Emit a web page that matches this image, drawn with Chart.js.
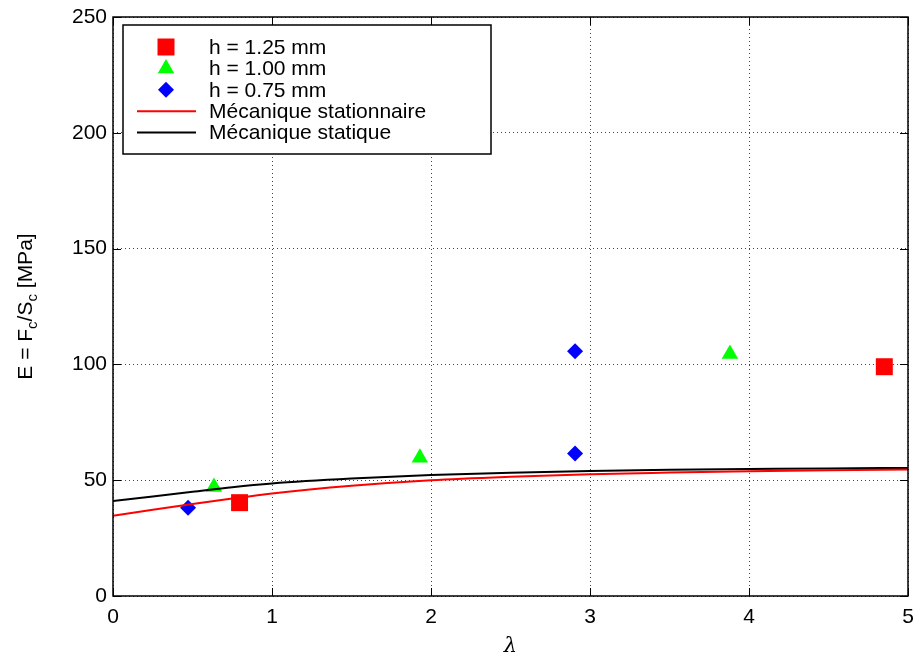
<!DOCTYPE html>
<html>
<head>
<meta charset="utf-8">
<script src="https://cdn.jsdelivr.net/npm/chart.js@4.4.1/dist/chart.umd.min.js"></script>
<style>
  html, body { margin: 0; padding: 0; background: #fff; }
  #wrap { width: 920px; height: 665px; }
</style>
</head>
<body>
<div id="wrap"><canvas id="myChart"></canvas></div>
<script>
// mesures (points)
const lambda125 = [0.796, 4.851];
const e125 = [40.3, 99.0];
const lambda100 = [0.635, 1.93, 3.88];
const e100 = [47.1, 59.7, 104.5];
const lambda075 = [0.472, 2.906, 2.906];
const e075 = [38.1, 105.7, 61.5];

// modeles (courbes)
const lambdaCurve = [0, 0.25, 0.5, 0.75, 1, 1.5, 2, 2.5, 3, 3.5, 4, 4.5, 5];
const eStationnaire = [34.6, 37.2, 39.7, 42.1, 44.3, 47.6, 50.0, 51.5, 52.6, 53.3, 53.9, 54.3, 54.6];
const eStatique = [41.0, 43.0, 45.0, 47.0, 48.6, 50.7, 52.2, 53.2, 54.0, 54.5, 54.8, 55.1, 55.3];

// graduations
const xTicks = [0, 1, 2, 3, 4, 5];
const yTicks = [0, 50, 100, 150, 200, 250];

const FONT = "'Liberation Sans', Arial, sans-serif";

const pts = (xs, ys) => xs.map((x, i) => ({ x: x, y: ys[i] }));

function marker(ctx, style, x, y, color) {
    ctx.save();
    ctx.fillStyle = color;
    ctx.beginPath();
    if (style === 'rect') {
        ctx.rect(x - 8.5, y - 8.5, 17, 17);
    } else if (style === 'triangle') {
        ctx.moveTo(x, y - 9.5);
        ctx.lineTo(x + 8.2, y + 4.75);
        ctx.lineTo(x - 8.2, y + 4.75);
        ctx.closePath();
    } else {
        ctx.moveTo(x - 8, y);
        ctx.lineTo(x, y - 8);
        ctx.lineTo(x + 8, y);
        ctx.lineTo(x, y + 8);
        ctx.closePath();
    }
    ctx.fill();
    ctx.restore();
}

const cadre = {
    id: 'cadre',
    afterDraw(chart) {
        const ctx = chart.ctx;
        const a = chart.chartArea;
        const sx = chart.scales.x, sy = chart.scales.y;

        // ticks vers l'interieur
        ctx.save();
        ctx.strokeStyle = '#000';
        ctx.lineWidth = 1;
        xTicks.forEach(v => {
            const px = Math.round(sx.getPixelForValue(v)) + 0.5;
            ctx.beginPath();
            ctx.moveTo(px, a.bottom); ctx.lineTo(px, a.bottom - 8);
            ctx.moveTo(px, a.top); ctx.lineTo(px, a.top + 8);
            ctx.stroke();
        });
        yTicks.forEach(v => {
            const py = Math.round(sy.getPixelForValue(v)) + 0.5;
            ctx.beginPath();
            ctx.moveTo(a.left, py); ctx.lineTo(a.left + 8, py);
            ctx.moveTo(a.right, py); ctx.lineTo(a.right - 8, py);
            ctx.stroke();
        });
        // bordure
        ctx.lineWidth = 1.5;
        ctx.strokeRect(a.left, a.top, a.right - a.left, a.bottom - a.top);
        ctx.restore();

        // titre axe y avec indices
        ctx.save();
        ctx.translate(32, (a.top + a.bottom) / 2);
        ctx.rotate(-Math.PI / 2);
        ctx.fillStyle = '#000';
        ctx.textBaseline = 'alphabetic';
        const parts = [['E = F', false], ['c', true], ['/S', false], ['c', true], [' [MPa]', false]];
        let total = 0;
        parts.forEach(p => {
            ctx.font = (p[1] ? '15px ' : '21px ') + FONT;
            total += ctx.measureText(p[0]).width;
        });
        let cx = -total / 2;
        parts.forEach(p => {
            ctx.font = (p[1] ? '15px ' : '21px ') + FONT;
            ctx.fillText(p[0], cx, p[1] ? 5 : 0);
            cx += ctx.measureText(p[0]).width;
        });
        ctx.restore();

        // legende
        ctx.save();
        ctx.fillStyle = '#fff';
        ctx.fillRect(123, 25, 368, 129);
        ctx.strokeStyle = '#000';
        ctx.lineWidth = 1.5;
        ctx.strokeRect(123, 25, 368, 129);
        ctx.font = '21px ' + FONT;
        ctx.textBaseline = 'middle';
        const rows = [0, 1, 2, 3, 4];
        rows.forEach(i => {
            const ds = chart.data.datasets[i];
            const y = 47 + i * 21.4;
            if (ds.showLine) {
                ctx.strokeStyle = ds.borderColor;
                ctx.lineWidth = 2;
                ctx.beginPath();
                ctx.moveTo(137, y); ctx.lineTo(196, y);
                ctx.stroke();
            } else {
                marker(ctx, ds.pointStyle, 166, y, ds.backgroundColor);
            }
            ctx.fillStyle = '#000';
            ctx.fillText(ds.label, 209, y + 1);
        });
        ctx.restore();
    }
};

new Chart(document.getElementById('myChart'), {
    type: 'scatter',
    data: {
        datasets: [{
            label: 'h = 1.25 mm',
            data: pts(lambda125, e125),
            pointStyle: 'rect',
            pointRadius: 12,
            backgroundColor: '#ff0000',
            borderWidth: 0,
            order: 1
        }, {
            label: 'h = 1.00 mm',
            data: pts(lambda100, e100),
            pointStyle: 'triangle',
            pointRadius: 9.5,
            backgroundColor: '#00ff00',
            borderWidth: 0,
            order: 1
        }, {
            label: 'h = 0.75 mm',
            data: pts(lambda075, e075),
            pointStyle: 'rectRot',
            pointRadius: 8,
            backgroundColor: '#0000ff',
            borderWidth: 0,
            order: 1
        }, {
            label: 'Mécanique stationnaire',
            data: pts(lambdaCurve, eStationnaire),
            showLine: true,
            borderColor: '#ff0000',
            backgroundColor: '#ff0000',
            borderWidth: 2,
            pointRadius: 0,
            cubicInterpolationMode: 'monotone',
            order: 0
        }, {
            label: 'Mécanique statique',
            data: pts(lambdaCurve, eStatique),
            showLine: true,
            borderColor: '#000000',
            backgroundColor: '#000000',
            borderWidth: 2,
            pointRadius: 0,
            cubicInterpolationMode: 'monotone',
            order: 0
        }]
    },
    options: {
        responsive: true,
        maintainAspectRatio: false,
        animation: false,
        layout: { padding: { top: 17, right: 12, left: 0, bottom: 0 } },
        plugins: {
            legend: { display: false },
            tooltip: { enabled: false }
        },
        scales: {
            x: {
                type: 'linear',
                min: 0,
                max: 5,
                afterBuildTicks: s => { s.ticks = xTicks.map(v => ({ value: v })); },
                afterFit: s => { s.height = 69; s.paddingLeft = 0; s.paddingRight = 0; },
                ticks: {
                    padding: 9,
                    color: '#000',
                    font: { family: FONT, size: 21 }
                },
                grid: { color: '#444', lineWidth: 1, drawTicks: false },
                border: { display: false, dash: [1, 3] },
                title: {
                    display: true,
                    text: 'λ',
                    color: '#000',
                    font: { family: "'DejaVu Serif', serif", size: 21, style: 'italic' },
                    padding: { top: 0, bottom: 6 }
                }
            },
            y: {
                type: 'linear',
                min: 0,
                max: 250,
                afterBuildTicks: s => { s.ticks = yTicks.map(v => ({ value: v })); },
                afterFit: s => { s.width = 113; s.paddingTop = 0; s.paddingBottom = 0; },
                ticks: {
                    padding: 6,
                    color: '#000',
                    font: { family: FONT, size: 21 }
                },
                grid: { color: '#444', lineWidth: 1, drawTicks: false },
                border: { display: false, dash: [1, 3] }
            }
        }
    },
    plugins: [cadre]
});
</script>
</body>
</html>
